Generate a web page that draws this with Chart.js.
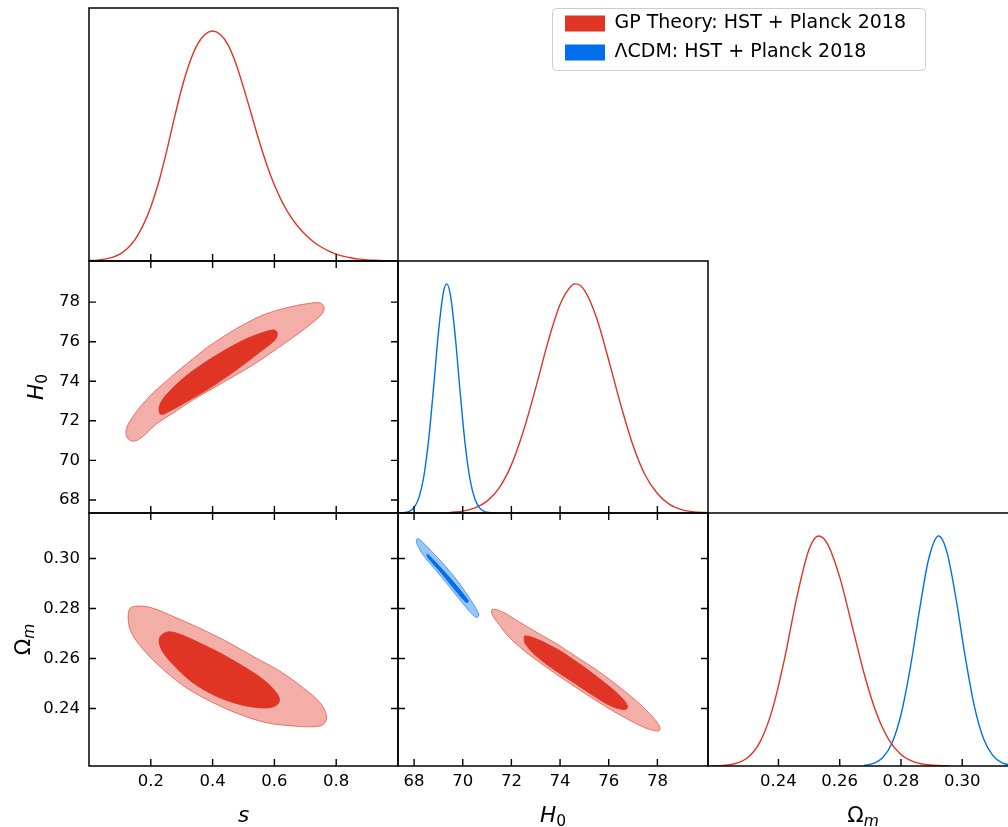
<!DOCTYPE html>
<html>
<head>
<meta charset="utf-8">
<script src="https://cdn.jsdelivr.net/npm/chart.js@4/dist/chart.umd.min.js"></script>
<style>
  html, body { margin: 0; background: #fff; }
  #fig { position: relative; width: 1008px; height: 827px; overflow: hidden; }
  #fig canvas { position: absolute; }
</style>
</head>
<body>
<div id="fig"></div>
<script>
// ---- axis limits and ticks ----
const sRange = [0, 1];
const h0Range = [67.34, 80.08];
const omRange = [0.2170, 0.3182];
const densRange = [0, 1.1];
const sTicks = [0.2, 0.4, 0.6, 0.8];
const h0Ticks = [68, 70, 72, 74, 76, 78];
const omTicks = [0.24, 0.26, 0.28, 0.30];

const legendLabels = ["GP Theory: HST + Planck 2018", "ΛCDM: HST + Planck 2018"];

// ---- 1D marginals (normalised density) ----
const sCurveX = [0, 0.025, 0.05, 0.075, 0.1, 0.125, 0.15, 0.175, 0.2, 0.225, 0.25, 0.275, 0.3, 0.325, 0.35, 0.375, 0.4, 0.425, 0.45, 0.475, 0.5, 0.525, 0.55, 0.575, 0.6, 0.625, 0.65, 0.675, 0.7, 0.725, 0.75, 0.775, 0.8, 0.825, 0.85, 0.875, 0.9, 0.925, 0.95, 1.0];
const sCurveY = [0.002, 0.004, 0.008, 0.016, 0.030, 0.055, 0.095, 0.155, 0.235, 0.340, 0.470, 0.615, 0.750, 0.860, 0.940, 0.985, 1.0, 0.985, 0.940, 0.860, 0.755, 0.640, 0.525, 0.420, 0.330, 0.257, 0.198, 0.152, 0.115, 0.085, 0.062, 0.044, 0.030, 0.020, 0.013, 0.008, 0.005, 0.003, 0.0015, 0];

const h0RedX = [69.5, 70, 70.5, 71, 71.5, 72, 72.5, 73, 73.5, 74, 74.5, 74.65, 75, 75.5, 76, 76.5, 77, 77.5, 78, 78.5, 79, 79.5, 80];
const h0RedY = [0.003, 0.008, 0.022, 0.052, 0.11, 0.21, 0.36, 0.546, 0.745, 0.91, 0.995, 1.0, 0.973, 0.852, 0.667, 0.47, 0.295, 0.165, 0.085, 0.038, 0.015, 0.005, 0.002];
const h0BlueX = [67.4, 67.6, 67.8, 68.0, 68.2, 68.4, 68.6, 68.8, 69.0, 69.2, 69.34, 69.5, 69.7, 69.9, 70.1, 70.3, 70.5, 70.7, 70.9, 71.1, 71.3];
const h0BlueY = [0.0004, 0.002, 0.007, 0.024, 0.067, 0.159, 0.32, 0.545, 0.786, 0.96, 1.0, 0.948, 0.763, 0.52, 0.30, 0.147, 0.061, 0.021, 0.006, 0.002, 0.0005];

const omRedX = [0.218, 0.222, 0.226, 0.230, 0.234, 0.238, 0.242, 0.246, 0.250, 0.2531, 0.256, 0.260, 0.264, 0.268, 0.272, 0.276, 0.280, 0.284, 0.288, 0.292, 0.296];
const omRedY = [0.0005, 0.0026, 0.011, 0.037, 0.105, 0.245, 0.467, 0.733, 0.942, 1.0, 0.966, 0.821, 0.612, 0.40, 0.229, 0.115, 0.050, 0.019, 0.0065, 0.002, 0.0005];
const omBlueX = [0.268, 0.271, 0.274, 0.277, 0.280, 0.283, 0.286, 0.289, 0.2923, 0.295, 0.298, 0.301, 0.304, 0.307, 0.310, 0.313, 0.316, 0.318];
const omBlueY = [0.003, 0.011, 0.036, 0.098, 0.223, 0.424, 0.674, 0.898, 1.0, 0.930, 0.725, 0.472, 0.257, 0.117, 0.045, 0.014, 0.004, 0.0014];

// ---- 2D contours (68% inner, 95% outer) ----
const shOuterS = [0.381, 0.446, 0.510, 0.575, 0.640, 0.704, 0.748, 0.761, 0.753, 0.715, 0.661, 0.597, 0.532, 0.467, 0.402, 0.338, 0.273, 0.219, 0.181, 0.160, 0.143, 0.128, 0.120, 0.121, 0.133, 0.165, 0.208, 0.262, 0.316];
const shOuterH = [75.70, 76.37, 76.95, 77.42, 77.72, 77.92, 77.96, 77.73, 77.39, 76.86, 76.22, 75.52, 74.83, 74.24, 73.65, 73.07, 72.40, 71.85, 71.30, 71.05, 70.97, 71.07, 71.30, 71.60, 72.00, 72.70, 73.42, 74.17, 74.88];
const shInnerS = [0.381, 0.446, 0.510, 0.564, 0.599, 0.609, 0.602, 0.553, 0.478, 0.392, 0.316, 0.262, 0.232, 0.228, 0.251, 0.316];
const shInnerH = [75.01, 75.63, 76.15, 76.47, 76.59, 76.44, 76.10, 75.48, 74.59, 73.67, 72.97, 72.50, 72.33, 72.75, 73.33, 74.29];

const smOuterS = [0.446, 0.532, 0.618, 0.694, 0.748, 0.769, 0.758, 0.726, 0.661, 0.575, 0.489, 0.402, 0.316, 0.241, 0.176, 0.138, 0.127, 0.133, 0.165, 0.208, 0.273, 0.359];
const smOuterM = [0.2668, 0.2608, 0.2549, 0.2482, 0.2423, 0.2369, 0.2336, 0.2327, 0.2330, 0.2343, 0.2376, 0.2423, 0.2482, 0.2555, 0.2635, 0.2701, 0.2754, 0.2801, 0.2810, 0.2801, 0.2768, 0.2721];
const smInnerS = [0.424, 0.499, 0.564, 0.607, 0.616, 0.597, 0.553, 0.489, 0.413, 0.338, 0.273, 0.235, 0.228, 0.251, 0.284, 0.348];
const smInnerM = [0.2622, 0.2569, 0.2515, 0.2462, 0.2429, 0.2407, 0.2403, 0.2416, 0.2449, 0.2502, 0.2575, 0.2635, 0.2681, 0.2705, 0.2701, 0.2668];

const hmRedOuterH = [73.93, 74.75, 75.58, 76.40, 77.22, 77.84, 78.11, 78.04, 77.49, 76.67, 75.85, 75.03, 74.21, 73.38, 72.56, 71.88, 71.40, 71.19, 71.22, 71.60, 72.29, 73.11];
const hmRedOuterM = [0.2655, 0.2602, 0.2549, 0.2489, 0.2423, 0.2363, 0.2323, 0.2310, 0.2323, 0.2363, 0.2409, 0.2460, 0.2513, 0.2569, 0.2628, 0.2688, 0.2748, 0.2781, 0.2797, 0.2788, 0.2748, 0.2701];
const hmRedInnerH = [73.93, 74.75, 75.58, 76.40, 76.78, 76.67, 76.12, 75.30, 74.48, 73.66, 72.97, 72.56, 72.53, 72.56, 73.11];
const hmRedInnerM = [0.2635, 0.2582, 0.2522, 0.2456, 0.2409, 0.2396, 0.2409, 0.2456, 0.2509, 0.2562, 0.2615, 0.2661, 0.2681, 0.2691, 0.2675];
const hmBlueOuterH = [69.27, 69.82, 70.37, 70.67, 70.53, 70.03, 69.41, 68.86, 68.38, 68.11, 68.11, 68.21, 68.73];
const hmBlueOuterM = [0.2972, 0.2906, 0.2828, 0.2774, 0.2765, 0.2817, 0.2893, 0.2957, 0.3013, 0.3060, 0.3077, 0.3078, 0.3028];
const hmBlueInnerH = [69.00, 69.55, 70.16, 70.23, 70.16, 69.69, 69.14, 68.66, 68.52, 68.56];
const hmBlueInnerM = [0.2973, 0.2914, 0.2841, 0.2830, 0.2823, 0.2874, 0.2940, 0.2993, 0.3013, 0.3017];

// ---- styling ----
const RED = '#E03424', BLUE = '#006FED';
const RED_LIGHT = 'rgba(224,52,36,0.4)', BLUE_LIGHT = 'rgba(0,111,237,0.4)';
Chart.defaults.font.family = "'DejaVu Sans', sans-serif";
Chart.defaults.color = '#000';

const fig = document.getElementById('fig');

function pts(xs, ys, close) {
  const p = xs.map((x, i) => ({x: x, y: ys[i]}));
  if (close) p.push({x: p[0].x, y: p[0].y});
  return p;
}

function curve(xs, ys, color) {
  return {data: pts(xs, ys, false), borderColor: color, borderWidth: 1.4, pointRadius: 0,
          cubicInterpolationMode: 'monotone', fill: false};
}

function contour(xs, ys, fillColor, lineColor, order) {
  return {data: pts(xs, ys, true), borderColor: lineColor, backgroundColor: fillColor,
          borderWidth: 1, pointRadius: 0, tension: 0.35, fill: 'shape', order: order};
}

function axis(range, ticks, digits, size, pad) {
  return {
    type: 'linear', min: range[0], max: range[1], display: size != null,
    grid: {display: false, drawTicks: false}, border: {display: false},
    afterBuildTicks: sc => { sc.ticks = (ticks || []).map(v => ({value: v})); },
    afterFit: sc => {
      sc.paddingTop = sc.paddingBottom = sc.paddingLeft = sc.paddingRight = 0;
      if (size != null) { if (sc.isHorizontal()) sc.height = size; else sc.width = size; }
    },
    ticks: {autoSkip: false, maxRotation: 0, padding: pad || 6, color: '#000',
            font: {size: 16.5}, callback: v => Number(v).toFixed(digits)}
  };
}

// inward tick marks + box around each panel
const panelFrame = {
  id: 'panelFrame',
  afterDatasetsDraw(chart, args, o) {
    const {ctx, chartArea: a, scales: {x, y}} = chart;
    const L = 7;
    ctx.save();
    ctx.strokeStyle = '#000';
    ctx.lineWidth = 1.4;
    ctx.beginPath();
    for (const t of x.ticks) {
      const px = x.getPixelForValue(t.value);
      ctx.moveTo(px, a.bottom); ctx.lineTo(px, a.bottom - L);
      if (o.all) { ctx.moveTo(px, a.top); ctx.lineTo(px, a.top + L); }
    }
    if (o.all) {
      for (const t of y.ticks) {
        const py = y.getPixelForValue(t.value);
        ctx.moveTo(a.left, py); ctx.lineTo(a.left + L, py);
        ctx.moveTo(a.right, py); ctx.lineTo(a.right - L, py);
      }
    }
    ctx.stroke();
    ctx.lineWidth = 1.5;
    ctx.strokeRect(a.left, a.top, a.right - a.left, a.bottom - a.top);
    ctx.restore();
  }
};

// axis titles with subscripts
function drawRich(ctx, parts) {
  const fonts = parts.map(p => (p.italic ? 'italic ' : '') + (p.sub ? 15.5 : 21.5) + "px 'DejaVu Sans'");
  let total = 0;
  const w = parts.map((p, i) => { ctx.font = fonts[i]; const m = ctx.measureText(p.text).width; total += m; return m; });
  let x = -total / 2;
  ctx.fillStyle = '#000';
  ctx.textAlign = 'left';
  ctx.textBaseline = 'alphabetic';
  parts.forEach((p, i) => { ctx.font = fonts[i]; ctx.fillText(p.text, x, p.sub ? 4 : 0); x += w[i]; });
}

const richTitles = {
  id: 'richTitles',
  afterDraw(chart, args, o) {
    const {ctx, chartArea: a} = chart;
    for (const t of (o.items || [])) {
      ctx.save();
      if (t.side === 'bottom') {
        ctx.translate((a.left + a.right) / 2, a.bottom + t.offset);
      } else {
        ctx.translate(a.left - t.offset, (a.top + a.bottom) / 2);
        ctx.rotate(-Math.PI / 2);
      }
      drawRich(ctx, t.parts);
      ctx.restore();
    }
  }
};

const T_S = [{text: 's', italic: true}];
const T_H0 = [{text: 'H', italic: true}, {text: '0', sub: true}];
const T_OM = [{text: 'Ω'}, {text: 'm', italic: true, sub: true}];

function makePanel(box, m, datasets, scales, all, titles) {
  const c = document.createElement('canvas');
  const W = box.w + m.l + m.r, H = box.h + m.t + m.b;
  c.width = W; c.height = H;
  c.style.left = (box.l - m.l) + 'px';
  c.style.top = (box.t - m.t) + 'px';
  c.style.width = W + 'px';
  c.style.height = H + 'px';
  fig.appendChild(c);
  new Chart(c, {
    type: 'line',
    data: {datasets: datasets},
    options: {
      responsive: false, animation: false, devicePixelRatio: 1, events: [],
      layout: {padding: {left: scales.y.display ? 0 : m.l, right: m.r, top: m.t,
                         bottom: scales.x.display ? 0 : m.b}},
      scales: scales,
      plugins: {legend: {display: false}, tooltip: {enabled: false},
                panelFrame: {all: all}, richTitles: {items: titles || []}}
    },
    plugins: [panelFrame, richTitles]
  });
}

const M4 = {l: 4, t: 4, r: 4, b: 4};

// row 1: s marginal
makePanel({l: 89, t: 8, w: 309, h: 253}, M4,
  [curve(sCurveX, sCurveY, RED)],
  {x: axis(sRange, sTicks, 1), y: axis(densRange, [], 1)}, false);

// row 2: s vs H0, H0 marginal
makePanel({l: 89, t: 261, w: 309, h: 252}, {l: 89, t: 4, r: 4, b: 4},
  [contour(shInnerS, shInnerH, RED, RED, 1),
   contour(shOuterS, shOuterH, RED_LIGHT, 'rgba(224,52,36,0.6)', 2)],
  {x: axis(sRange, sTicks, 1), y: axis(h0Range, h0Ticks, 0, 89, 9)}, true,
  [{side: 'left', offset: 46, parts: T_H0}]);

makePanel({l: 398, t: 261, w: 310, h: 252}, M4,
  [curve(h0BlueX, h0BlueY, BLUE), curve(h0RedX, h0RedY, RED)],
  {x: axis(h0Range, h0Ticks, 0), y: axis(densRange, [], 1)}, false);

// row 3: s vs Om, H0 vs Om, Om marginal
makePanel({l: 89, t: 513, w: 309, h: 253}, {l: 89, t: 4, r: 4, b: 61},
  [contour(smInnerS, smInnerM, RED, RED, 1),
   contour(smOuterS, smOuterM, RED_LIGHT, 'rgba(224,52,36,0.6)', 2)],
  {x: axis(sRange, sTicks, 1, 61, 6), y: axis(omRange, omTicks, 2, 89, 9)}, true,
  [{side: 'bottom', offset: 56, parts: T_S}, {side: 'left', offset: 59, parts: T_OM}]);

makePanel({l: 398, t: 513, w: 310, h: 253}, {l: 4, t: 4, r: 4, b: 61},
  [contour(hmRedInnerH, hmRedInnerM, RED, RED, 1),
   contour(hmRedOuterH, hmRedOuterM, RED_LIGHT, 'rgba(224,52,36,0.6)', 2),
   contour(hmBlueInnerH, hmBlueInnerM, BLUE, BLUE, 1),
   contour(hmBlueOuterH, hmBlueOuterM, BLUE_LIGHT, 'rgba(0,111,237,0.6)', 2)],
  {x: axis(h0Range, h0Ticks, 0, 61, 6), y: axis(omRange, omTicks, 2)}, true,
  [{side: 'bottom', offset: 56, parts: T_H0}]);

makePanel({l: 708, t: 513, w: 310, h: 253}, {l: 4, t: 4, r: 4, b: 61},
  [curve(omRedX, omRedY, RED), curve(omBlueX, omBlueY, BLUE)],
  {x: axis(omRange, omTicks, 2, 61, 6), y: axis(densRange, [], 1)}, false,
  [{side: 'bottom', offset: 56, parts: T_OM}]);

// legend
const legendFrame = {
  id: 'legendFrame',
  afterDraw(chart) {
    const ctx = chart.ctx;
    ctx.save();
    ctx.strokeStyle = '#cccccc';
    ctx.lineWidth = 1;
    ctx.beginPath();
    ctx.roundRect(7.5, 8.5, 373, 62, 4);
    ctx.stroke();
    ctx.restore();
  }
};
const lc = document.createElement('canvas');
lc.width = 390; lc.height = 80;
lc.style.left = '545px'; lc.style.top = '0px';
lc.style.width = '390px'; lc.style.height = '80px';
fig.appendChild(lc);
new Chart(lc, {
  type: 'bar',
  data: {labels: [], datasets: legendLabels.map((l, i) => ({label: l, data: [], backgroundColor: [RED, BLUE][i], borderWidth: 0}))},
  options: {
    responsive: false, animation: false, devicePixelRatio: 1, events: [],
    layout: {padding: {left: 10, top: 4, right: 0, bottom: 0}},
    scales: {x: {display: false}, y: {display: false}},
    plugins: {
      tooltip: {enabled: false},
      legend: {position: 'top', align: 'start', maxHeight: 100,
               labels: {boxWidth: 40, boxHeight: 16, padding: 10, color: '#000', font: {size: 19}}}
    }
  },
  plugins: [legendFrame]
});
</script>
</body>
</html>
